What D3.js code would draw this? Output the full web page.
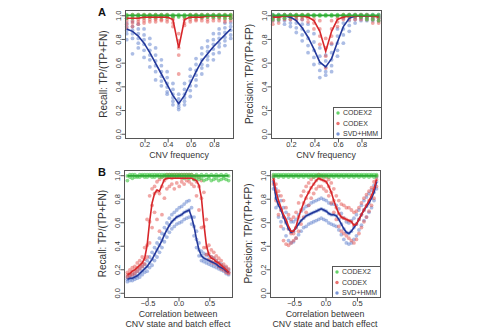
<!DOCTYPE html>
<html>
<head>
<meta charset="utf-8">
<script src="https://cdn.jsdelivr.net/npm/d3@7.9.0/dist/d3.min.js"></script>
<style>
  body { margin: 0; background: #fff; }
  svg { display: block; font-family: "Liberation Sans", Arial, sans-serif; }
</style>
</head>
<body>
<script>
// ---- data: panel A (x = CNV frequency) ----
const freq = [0.05, 0.10, 0.15, 0.20, 0.25, 0.30, 0.35, 0.40, 0.45, 0.50, 0.55, 0.60, 0.65, 0.70, 0.75, 0.80, 0.85, 0.90, 0.95];

const recallLineCodex2 = [0.995, 0.995, 0.995, 0.995, 0.995, 0.995, 0.995, 0.995, 0.995, 0.995, 0.995, 0.995, 0.995, 0.995, 0.995, 0.995, 0.995, 0.995, 0.995];
const recallLineCodex = [0.97, 0.97, 0.97, 0.98, 0.98, 0.98, 0.98, 0.98, 0.96, 0.72, 0.96, 0.98, 0.98, 0.98, 0.99, 0.99, 0.99, 0.99, 0.99];
const recallLineSvd = [0.88, 0.86, 0.82, 0.76, 0.68, 0.59, 0.50, 0.41, 0.32, 0.25, 0.32, 0.42, 0.52, 0.61, 0.67, 0.73, 0.78, 0.83, 0.88];

const recallPtsCodex2 = [
  [1.00, 0.99, 0.97], [1.00, 0.99, 0.97], [1.00, 0.99, 0.98], [1.00, 0.99, 0.98], [1.00, 0.99, 0.98],
  [1.00, 0.99, 0.98], [1.00, 0.99, 0.98], [1.00, 0.99, 0.98], [1.00, 0.99, 0.98], [1.00, 0.99, 0.98],
  [1.00, 0.99, 0.98], [1.00, 0.99, 0.98], [1.00, 0.99, 0.98], [1.00, 0.99, 0.98], [1.00, 0.99, 0.98],
  [1.00, 0.99, 0.98], [1.00, 0.99, 0.98], [1.00, 0.99, 0.97], [1.00, 0.99, 0.97]
];
const recallPtsCodex = [
  [0.99, 0.97, 0.95, 0.92, 0.89], [1.00, 0.98, 0.95, 0.93, 0.90], [1.00, 0.98, 0.96, 0.94, 0.92],
  [1.00, 0.99, 0.97, 0.95, 0.93], [1.00, 0.99, 0.98, 0.96, 0.94], [1.00, 0.99, 0.97, 0.96, 0.94],
  [1.00, 0.99, 0.98, 0.96, 0.95], [1.00, 0.99, 0.98, 0.96, 0.94], [0.99, 0.98, 0.96, 0.93, 0.90],
  [0.84, 0.78, 0.72, 0.66, 0.50], [0.99, 0.98, 0.96, 0.93, 0.91], [1.00, 0.99, 0.98, 0.96, 0.94],
  [1.00, 0.99, 0.98, 0.96, 0.95], [1.00, 0.99, 0.98, 0.97, 0.95], [1.00, 0.99, 0.98, 0.96, 0.94],
  [1.00, 0.99, 0.98, 0.97, 0.95], [1.00, 0.99, 0.98, 0.97, 0.95], [1.00, 0.99, 0.98, 0.96, 0.94],
  [1.00, 0.99, 0.98, 0.97, 0.95]
];
const recallPtsSvd = [
  [0.97, 0.93, 0.90, 0.87, 0.84, 0.79], [0.94, 0.90, 0.87, 0.84, 0.80, 0.67], [0.92, 0.88, 0.84, 0.80, 0.76, 0.72],
  [0.88, 0.83, 0.79, 0.75, 0.70, 0.64], [0.80, 0.75, 0.70, 0.66, 0.62, 0.56], [0.72, 0.66, 0.61, 0.57, 0.52, 0.45],
  [0.62, 0.57, 0.52, 0.48, 0.44, 0.40], [0.52, 0.47, 0.42, 0.39, 0.35, 0.33], [0.42, 0.37, 0.33, 0.30, 0.27, 0.24],
  [0.33, 0.29, 0.26, 0.24, 0.22, 0.20], [0.42, 0.37, 0.33, 0.30, 0.27, 0.24], [0.54, 0.48, 0.44, 0.40, 0.36, 0.31],
  [0.63, 0.58, 0.53, 0.49, 0.45, 0.40], [0.72, 0.67, 0.62, 0.58, 0.55, 0.50], [0.78, 0.73, 0.69, 0.65, 0.62, 0.57],
  [0.84, 0.79, 0.75, 0.71, 0.67, 0.62], [0.88, 0.84, 0.80, 0.76, 0.73, 0.68], [0.93, 0.89, 0.85, 0.81, 0.78, 0.74],
  [0.97, 0.93, 0.90, 0.87, 0.83, 0.80]
];

const precLineCodex2 = [0.995, 0.995, 0.995, 0.995, 0.995, 0.995, 0.995, 0.995, 0.995, 0.995, 0.995, 0.995, 0.995, 0.995, 0.995, 0.995, 0.995, 0.995, 0.995];
const precLineCodex = [0.98, 0.98, 0.99, 0.99, 0.99, 0.99, 0.98, 0.95, 0.86, 0.69, 0.86, 0.96, 0.98, 0.99, 0.99, 0.99, 0.99, 0.99, 0.98];
const precLineSvd = [0.99, 0.99, 0.99, 0.98, 0.95, 0.89, 0.81, 0.71, 0.60, 0.56, 0.63, 0.77, 0.90, 0.97, 0.99, 0.99, 0.99, 0.99, 0.99];

const precPtsCodex2 = [
  [1.00, 0.98, 0.96], [1.00, 0.99, 0.96], [1.00, 0.99, 0.97], [1.00, 0.99, 0.98], [1.00, 0.995, 0.99],
  [1.00, 0.995, 0.99], [1.00, 0.995, 0.99], [1.00, 0.995, 0.99], [1.00, 0.995, 0.99], [1.00, 0.995, 0.99],
  [1.00, 0.995, 0.99], [1.00, 0.995, 0.99], [1.00, 0.995, 0.99], [1.00, 0.995, 0.99], [1.00, 0.995, 0.99],
  [1.00, 0.99, 0.98], [1.00, 0.98, 0.96], [1.00, 0.99, 0.96], [1.00, 0.98, 0.95]
];
const precPtsCodex = [
  [0.99, 0.97, 0.95, 0.92], [0.99, 0.98, 0.96, 0.93], [1.00, 0.99, 0.98, 0.96], [1.00, 0.99, 0.98, 0.96],
  [1.00, 0.99, 0.98, 0.96], [1.00, 0.99, 0.98, 0.96], [1.00, 0.99, 0.97, 0.94], [0.99, 0.96, 0.93, 0.88],
  [0.95, 0.88, 0.82, 0.75], [0.80, 0.72, 0.65, 0.55], [0.95, 0.88, 0.82, 0.76], [0.99, 0.97, 0.94, 0.90],
  [1.00, 0.99, 0.98, 0.96], [1.00, 0.99, 0.98, 0.96], [1.00, 0.99, 0.98, 0.96], [1.00, 0.99, 0.98, 0.96],
  [1.00, 0.99, 0.98, 0.96], [0.99, 0.98, 0.96, 0.93], [0.99, 0.97, 0.95, 0.93]
];
const precPtsSvd = [
  [1.00, 0.99, 0.98, 0.97, 0.95], [1.00, 0.99, 0.98, 0.97, 0.95], [1.00, 0.99, 0.97, 0.95, 0.92],
  [1.00, 0.98, 0.96, 0.93, 0.90], [0.99, 0.96, 0.93, 0.89, 0.85], [0.96, 0.92, 0.88, 0.83, 0.78],
  [0.92, 0.86, 0.80, 0.74, 0.68], [0.84, 0.77, 0.70, 0.64, 0.58], [0.72, 0.65, 0.59, 0.53, 0.47],
  [0.66, 0.61, 0.56, 0.52, 0.49], [0.75, 0.68, 0.62, 0.57, 0.52], [0.88, 0.82, 0.76, 0.70, 0.65],
  [0.97, 0.93, 0.88, 0.83, 0.76], [1.00, 0.98, 0.95, 0.91, 0.86], [1.00, 0.99, 0.98, 0.96, 0.93],
  [1.00, 0.99, 0.98, 0.97, 0.95], [1.00, 0.99, 0.98, 0.97, 0.95], [1.00, 0.99, 0.98, 0.97, 0.95],
  [1.00, 0.99, 0.98, 0.97, 0.95]
];

// ---- data: panel B (x = correlation between CNV state and batch effect) ----
const corr = [-0.82, -0.78, -0.74, -0.70, -0.66, -0.62, -0.58, -0.54, -0.50, -0.46, -0.42, -0.38, -0.34, -0.30,
  -0.26, -0.22, -0.18, -0.14, -0.10, -0.06, -0.02, 0.02, 0.06, 0.10, 0.14, 0.18, 0.22, 0.26,
  0.30, 0.34, 0.38, 0.42, 0.46, 0.50, 0.54, 0.58, 0.62, 0.66, 0.70, 0.74, 0.78, 0.82];

const corrRecallLineCodex2 = [0.99, 0.99, 0.99, 0.99, 0.99, 0.99, 0.99, 0.99, 0.99, 0.99, 0.99, 0.99, 0.99, 0.99,
  0.99, 0.99, 0.99, 0.99, 0.99, 0.99, 0.99, 0.99, 0.99, 0.99, 0.99, 0.99, 0.99, 0.99,
  0.99, 0.99, 0.99, 0.99, 0.99, 0.99, 0.99, 0.99, 0.99, 0.99, 0.99, 0.99, 0.99, 0.99];
const corrRecallLineCodex = [0.15, 0.16, 0.18, 0.19, 0.21, 0.23, 0.25, 0.29, 0.40, 0.60, 0.76, 0.84, 0.87, 0.86,
  0.91, 0.96, 0.97, 0.97, 0.97, 0.97, 0.97, 0.97, 0.97, 0.97, 0.97, 0.97, 0.97, 0.96,
  0.95, 0.91, 0.80, 0.58, 0.40, 0.32, 0.29, 0.28, 0.26, 0.25, 0.23, 0.21, 0.19, 0.17];
const corrRecallLineSvd = [0.11, 0.12, 0.12, 0.13, 0.14, 0.16, 0.18, 0.20, 0.22, 0.25, 0.28, 0.32, 0.36, 0.40,
  0.44, 0.49, 0.53, 0.57, 0.60, 0.62, 0.64, 0.65, 0.66, 0.68, 0.69, 0.70, 0.64, 0.56,
  0.45, 0.36, 0.31, 0.29, 0.28, 0.27, 0.26, 0.25, 0.24, 0.22, 0.21, 0.20, 0.18, 0.17];

const corrRecallPtsCodex2 = [
  [0.99, 0.95], [1.00, 0.98], [1.00, 0.97], [1.00, 0.98], [0.99, 0.98], [1.00, 0.98], [1.00, 0.99],
  [1.00, 0.98], [1.00, 0.98], [1.00, 0.99], [1.00, 0.98], [1.00, 0.98], [1.00, 0.99], [1.00, 0.98],
  [1.00, 0.98], [1.00, 0.99], [1.00, 0.98], [1.00, 0.98], [1.00, 0.99], [1.00, 0.98], [1.00, 0.98],
  [1.00, 0.99], [1.00, 0.98], [1.00, 0.97], [1.00, 0.98], [1.00, 0.97], [1.00, 0.98], [0.99, 0.96],
  [1.00, 0.97], [0.99, 0.96], [1.00, 0.97], [0.99, 0.95], [1.00, 0.96], [0.99, 0.97], [1.00, 0.95],
  [0.99, 0.96], [1.00, 0.97], [0.99, 0.95], [1.00, 0.96], [0.99, 0.97], [1.00, 0.96], [0.99, 0.95]
];
const corrRecallPtsCodex = [
  [0.17, 0.15, 0.13], [0.19, 0.16, 0.14], [0.21, 0.18, 0.15], [0.22, 0.19, 0.16], [0.25, 0.21, 0.18],
  [0.27, 0.23, 0.20], [0.30, 0.25, 0.22], [0.38, 0.28, 0.24], [0.62, 0.40, 0.30], [0.82, 0.60, 0.42],
  [0.88, 0.74, 0.55], [0.90, 0.84, 0.68], [0.94, 0.86, 0.62], [0.96, 0.84, 0.52], [0.98, 0.90, 0.66],
  [0.99, 0.95, 0.80], [1.00, 0.97, 0.88], [1.00, 0.98, 0.90], [1.00, 0.97, 0.92], [1.00, 0.98, 0.88],
  [1.00, 0.98, 0.93], [1.00, 0.98, 0.90], [1.00, 0.97, 0.94], [1.00, 0.98, 0.92], [1.00, 0.98, 0.95],
  [1.00, 0.99, 0.94], [1.00, 0.98, 0.92], [0.99, 0.96, 0.90], [0.99, 0.94, 0.82], [0.98, 0.90, 0.70],
  [0.95, 0.80, 0.55], [0.85, 0.56, 0.38], [0.62, 0.38, 0.32], [0.40, 0.33, 0.28], [0.36, 0.30, 0.26],
  [0.34, 0.29, 0.25], [0.31, 0.27, 0.24], [0.29, 0.25, 0.22], [0.27, 0.23, 0.20], [0.24, 0.21, 0.19],
  [0.22, 0.19, 0.17], [0.20, 0.17, 0.16]
];
const corrRecallPtsSvd = [
  [0.13, 0.11, 0.09], [0.14, 0.12, 0.10], [0.15, 0.12, 0.10], [0.16, 0.13, 0.11], [0.18, 0.14, 0.12],
  [0.20, 0.16, 0.13], [0.22, 0.18, 0.15], [0.24, 0.20, 0.17], [0.27, 0.22, 0.18], [0.30, 0.25, 0.21],
  [0.34, 0.28, 0.23], [0.38, 0.32, 0.27], [0.42, 0.36, 0.30], [0.46, 0.40, 0.34], [0.50, 0.44, 0.38],
  [0.55, 0.49, 0.43], [0.59, 0.53, 0.47], [0.63, 0.57, 0.51], [0.66, 0.60, 0.54], [0.68, 0.62, 0.56],
  [0.70, 0.64, 0.58], [0.72, 0.65, 0.59], [0.73, 0.66, 0.60], [0.75, 0.68, 0.62], [0.77, 0.69, 0.63],
  [0.78, 0.70, 0.64], [0.72, 0.64, 0.58], [0.64, 0.56, 0.48], [0.52, 0.45, 0.38], [0.42, 0.36, 0.31],
  [0.35, 0.31, 0.27], [0.33, 0.29, 0.26], [0.32, 0.28, 0.25], [0.31, 0.27, 0.24], [0.30, 0.26, 0.23],
  [0.29, 0.25, 0.22], [0.27, 0.24, 0.21], [0.25, 0.22, 0.20], [0.24, 0.21, 0.19], [0.22, 0.20, 0.18],
  [0.21, 0.18, 0.16], [0.19, 0.17, 0.15]
];

const corrPrecLineCodex2 = corrRecallLineCodex2;
const corrPrecLineCodex = [0.97, 0.86, 0.78, 0.72, 0.66, 0.62, 0.56, 0.52, 0.52, 0.56, 0.64, 0.70, 0.76, 0.81,
  0.85, 0.89, 0.92, 0.95, 0.97, 0.96, 0.95, 0.94, 0.90, 0.85, 0.78, 0.72, 0.67, 0.64,
  0.63, 0.62, 0.61, 0.60, 0.57, 0.58, 0.62, 0.66, 0.70, 0.74, 0.78, 0.82, 0.88, 0.96];
const corrPrecLineSvd = [0.95, 0.80, 0.74, 0.70, 0.64, 0.59, 0.54, 0.51, 0.52, 0.55, 0.58, 0.61, 0.63, 0.65,
  0.66, 0.67, 0.68, 0.69, 0.70, 0.71, 0.70, 0.69, 0.67, 0.66, 0.66, 0.65, 0.62, 0.58,
  0.54, 0.51, 0.50, 0.52, 0.55, 0.58, 0.62, 0.66, 0.70, 0.73, 0.76, 0.80, 0.85, 0.94];

const corrPrecPtsCodex2 = [
  [1.00, 0.98], [1.00, 0.99], [1.00, 0.98], [1.00, 0.99], [1.00, 0.98], [1.00, 0.99], [1.00, 0.98],
  [1.00, 0.99], [1.00, 0.98], [1.00, 0.99], [1.00, 0.98], [1.00, 0.99], [1.00, 0.98], [1.00, 0.99],
  [1.00, 0.98], [1.00, 0.99], [1.00, 0.98], [1.00, 0.99], [1.00, 0.98], [1.00, 0.99], [1.00, 0.98],
  [1.00, 0.99], [1.00, 0.98], [1.00, 0.99], [1.00, 0.98], [1.00, 0.99], [1.00, 0.98], [1.00, 0.99],
  [1.00, 0.98], [1.00, 0.99], [1.00, 0.98], [1.00, 0.99], [1.00, 0.98], [1.00, 0.99], [1.00, 0.98],
  [1.00, 0.99], [1.00, 0.98], [1.00, 0.99], [1.00, 0.98], [1.00, 0.99], [1.00, 0.98], [1.00, 0.99]
];
const corrPrecPtsCodex = [
  [0.99, 0.96, 0.92], [0.92, 0.85, 0.78], [0.86, 0.76, 0.66], [0.82, 0.70, 0.56], [0.78, 0.64, 0.44],
  [0.72, 0.60, 0.41], [0.66, 0.54, 0.40], [0.62, 0.50, 0.42], [0.64, 0.50, 0.44], [0.68, 0.55, 0.46],
  [0.76, 0.64, 0.52], [0.82, 0.70, 0.58], [0.86, 0.76, 0.64], [0.90, 0.80, 0.68], [0.93, 0.85, 0.74],
  [0.96, 0.89, 0.80], [0.98, 0.92, 0.84], [0.99, 0.95, 0.88], [1.00, 0.97, 0.90], [0.99, 0.96, 0.90],
  [0.99, 0.95, 0.88], [0.98, 0.94, 0.86], [0.96, 0.90, 0.82], [0.93, 0.85, 0.76], [0.88, 0.78, 0.68],
  [0.82, 0.72, 0.62], [0.78, 0.67, 0.56], [0.75, 0.64, 0.52], [0.74, 0.63, 0.50], [0.72, 0.62, 0.48],
  [0.72, 0.61, 0.46], [0.70, 0.60, 0.44], [0.68, 0.57, 0.42], [0.69, 0.58, 0.45], [0.72, 0.62, 0.50],
  [0.76, 0.66, 0.55], [0.80, 0.70, 0.60], [0.83, 0.74, 0.64], [0.86, 0.78, 0.69], [0.89, 0.82, 0.74],
  [0.94, 0.88, 0.80], [0.99, 0.96, 0.90]
];
const corrPrecPtsSvd = [
  [0.98, 0.94, 0.88], [0.88, 0.80, 0.72], [0.82, 0.74, 0.64], [0.78, 0.70, 0.60], [0.72, 0.64, 0.54],
  [0.68, 0.59, 0.48], [0.63, 0.54, 0.44], [0.60, 0.51, 0.42], [0.60, 0.52, 0.43], [0.62, 0.55, 0.46],
  [0.66, 0.58, 0.49], [0.69, 0.61, 0.52], [0.71, 0.63, 0.55], [0.73, 0.65, 0.56], [0.74, 0.66, 0.58],
  [0.76, 0.67, 0.59], [0.77, 0.68, 0.60], [0.78, 0.69, 0.61], [0.79, 0.70, 0.62], [0.80, 0.71, 0.63],
  [0.79, 0.70, 0.62], [0.78, 0.69, 0.61], [0.76, 0.67, 0.59], [0.75, 0.66, 0.58], [0.75, 0.66, 0.57],
  [0.74, 0.65, 0.56], [0.71, 0.62, 0.53], [0.67, 0.58, 0.49], [0.63, 0.54, 0.45], [0.60, 0.51, 0.42],
  [0.59, 0.50, 0.41], [0.61, 0.52, 0.42], [0.63, 0.55, 0.45], [0.66, 0.58, 0.48], [0.70, 0.62, 0.53],
  [0.74, 0.66, 0.57], [0.78, 0.70, 0.61], [0.81, 0.73, 0.64], [0.84, 0.76, 0.68], [0.87, 0.80, 0.72],
  [0.91, 0.85, 0.78], [0.98, 0.94, 0.88]
];

const yTicks = [0, 0.2, 0.4, 0.6, 0.8, 1.0];
const freqTicks = [0.2, 0.4, 0.6, 0.8];
const corrTicks = [-0.5, 0.0, 0.5];
const methods = ["CODEX2", "CODEX", "SVD+HMM"];

// ---- drawing ----
const lineColor = { "CODEX2": "#2ea836", "CODEX": "#d7262a", "SVD+HMM": "#23389a" };
const dotColor = { "CODEX2": "#3fc743", "CODEX": "#e3504c", "SVD+HMM": "#5a7ccc" };
const textColor = "#333";
const frameColor = "#555";

const svg = d3.select("body").append("svg").attr("width", 480).attr("height", 328);

function cloud(xs, cols) {
  return cols.flatMap((col, i) => col.map((v) => [xs[i], v]));
}

function drawPanel(p) {
  const g = svg.append("g");
  const x = d3.scaleLinear().domain(p.xDomain).range([p.left, p.right]);
  const y = d3.scaleLinear().domain([-0.04, 1.04]).range([p.bottom, p.top]);

  // points, SVD+HMM underneath
  p.series.slice().reverse().forEach((s) => {
    g.append("g")
      .selectAll("circle")
      .data(cloud(p.xs, s.pts))
      .join("circle")
      .attr("cx", (d) => x(d[0]))
      .attr("cy", (d) => y(d[1]))
      .attr("r", 1.9)
      .attr("fill", dotColor[s.name])
      .attr("fill-opacity", s.name === "CODEX2" ? 0.6 : 0.5);
  });

  const line = d3.line().x((d, i) => x(p.xs[i])).y((d) => y(d));
  p.series.slice().reverse().forEach((s) => {
    g.append("path")
      .datum(s.line)
      .attr("d", line)
      .attr("fill", "none")
      .attr("stroke", lineColor[s.name])
      .attr("stroke-width", 1.6);
  });

  // frame
  g.append("rect")
    .attr("x", p.left + 0.5).attr("y", p.top + 0.5)
    .attr("width", p.right - p.left).attr("height", p.bottom - p.top)
    .attr("fill", "none").attr("stroke", frameColor);

  // y axis
  const ya = g.append("g")
    .attr("transform", `translate(${p.left + 0.5},0.5)`)
    .call(d3.axisLeft(y).tickValues(yTicks).tickSize(4).tickFormat(d3.format(".1f")));
  ya.select(".domain").remove();
  ya.selectAll(".tick line").attr("stroke", frameColor);
  ya.selectAll(".tick text")
    .attr("x", null).attr("dy", null)
    .attr("transform", "translate(-4.5,0) rotate(-90)")
    .attr("text-anchor", "middle")
    .attr("fill", textColor)
    .style("font-size", "7.5px");

  // x axis
  const xa = g.append("g")
    .attr("transform", `translate(0.5,${p.bottom + 0.5})`)
    .call(d3.axisBottom(x).tickValues(p.xTicks).tickSize(4).tickFormat(d3.format(".1f")));
  xa.select(".domain").remove();
  xa.selectAll(".tick line").attr("stroke", frameColor);
  xa.selectAll(".tick text")
    .attr("y", 3.5)
    .attr("fill", textColor)
    .style("font-size", "7.5px");

  // axis titles
  g.append("text")
    .attr("transform", `translate(${p.left - 18},${(p.top + p.bottom) / 2}) rotate(-90)`)
    .attr("text-anchor", "middle")
    .attr("fill", textColor)
    .style("font-size", "10px")
    .text(p.yLabel);

  p.xLabel.forEach((t, i) => {
    g.append("text")
      .attr("x", (p.left + p.right) / 2)
      .attr("y", p.bottom + 20 + i * 9.5)
      .attr("text-anchor", "middle")
      .attr("fill", textColor)
      .style("font-size", "8.8px")
      .text(t);
  });

  if (p.tag) {
    g.append("text")
      .attr("x", 98).attr("y", p.top + 6)
      .attr("fill", "#111")
      .style("font-size", "11px").style("font-weight", "bold")
      .text(p.tag);
  }

  if (p.legend) {
    const lg = g.append("g").attr("transform", `translate(${p.right - 48},${p.bottom - 31})`);
    lg.append("rect")
      .attr("x", 0.5).attr("y", 0.5).attr("width", 48).attr("height", 31)
      .attr("fill", "#fff").attr("stroke", frameColor);
    methods.forEach((m, i) => {
      lg.append("circle")
        .attr("cx", 5).attr("cy", 6 + i * 10.5).attr("r", 1.7)
        .attr("fill", dotColor[m]).attr("fill-opacity", 0.8);
      lg.append("text")
        .attr("x", 10).attr("y", 6 + i * 10.5).attr("dy", "0.35em")
        .attr("fill", textColor)
        .style("font-size", "7px")
        .text(m);
    });
  }
}

drawPanel({
  left: 125, right: 233, top: 10, bottom: 138,
  xDomain: [0.035, 0.97], xs: freq, xTicks: freqTicks,
  yLabel: "Recall: TP/(TP+FN)", xLabel: ["CNV frequency"], tag: "A",
  series: [
    { name: "CODEX2", line: recallLineCodex2, pts: recallPtsCodex2 },
    { name: "CODEX", line: recallLineCodex, pts: recallPtsCodex },
    { name: "SVD+HMM", line: recallLineSvd, pts: recallPtsSvd }
  ]
});

drawPanel({
  left: 271, right: 381, top: 10, bottom: 138,
  xDomain: [0.035, 0.97], xs: freq, xTicks: freqTicks,
  yLabel: "Precision: TP/(TP+FP)", xLabel: ["CNV frequency"], legend: true,
  series: [
    { name: "CODEX2", line: precLineCodex2, pts: precPtsCodex2 },
    { name: "CODEX", line: precLineCodex, pts: precPtsCodex },
    { name: "SVD+HMM", line: precLineSvd, pts: precPtsSvd }
  ]
});

drawPanel({
  left: 124, right: 232, top: 170, bottom: 297,
  xDomain: [-0.875, 0.875], xs: corr, xTicks: corrTicks,
  yLabel: "Recall: TP/(TP+FN)", xLabel: ["Correlation between", "CNV state and batch effect"], tag: "B",
  series: [
    { name: "CODEX2", line: corrRecallLineCodex2, pts: corrRecallPtsCodex2 },
    { name: "CODEX", line: corrRecallLineCodex, pts: corrRecallPtsCodex },
    { name: "SVD+HMM", line: corrRecallLineSvd, pts: corrRecallPtsSvd }
  ]
});

drawPanel({
  left: 270, right: 380, top: 170, bottom: 297,
  xDomain: [-0.875, 0.875], xs: corr, xTicks: corrTicks,
  yLabel: "Precision: TP/(TP+FP)", xLabel: ["Correlation between", "CNV state and batch effect"], legend: true,
  series: [
    { name: "CODEX2", line: corrPrecLineCodex2, pts: corrPrecPtsCodex2 },
    { name: "CODEX", line: corrPrecLineCodex, pts: corrPrecPtsCodex },
    { name: "SVD+HMM", line: corrPrecLineSvd, pts: corrPrecPtsSvd }
  ]
});
</script>
</body>
</html>
